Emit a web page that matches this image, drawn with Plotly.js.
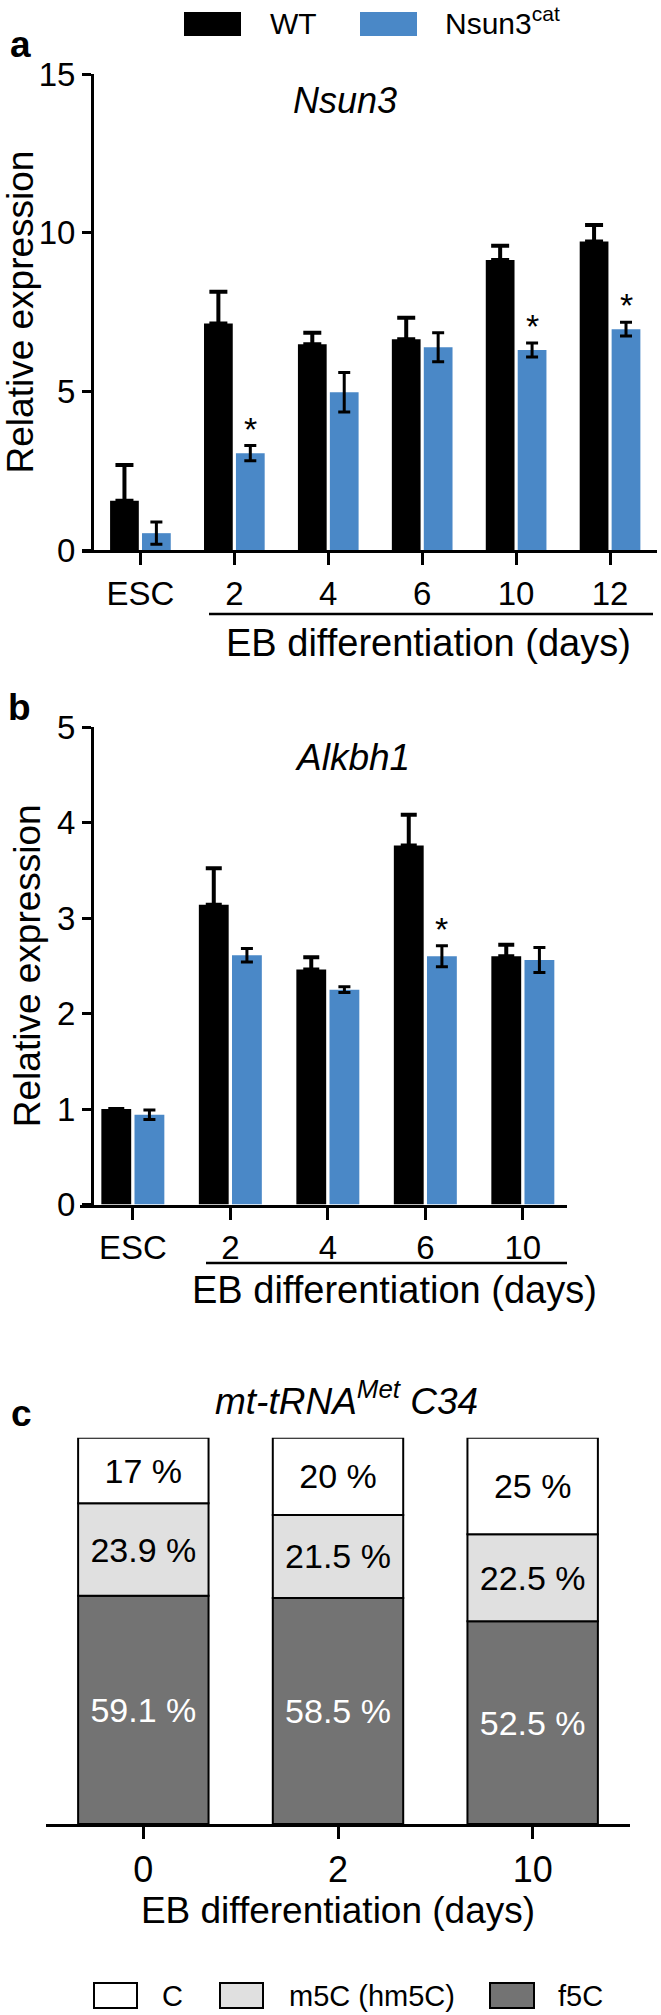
<!DOCTYPE html>
<html>
<head>
<meta charset="utf-8">
<script src="https://cdn.plot.ly/plotly-3.0.1.min.js"></script>
<style>
    body { margin: 0; background: #fff; }
    #fig { width: 661px; height: 2015px; }
</style>
</head>
<body>
<div id="fig"></div>
<script>
// panel a - Nsun3
var catsA = ['ESC', '2', '4', '6', '10', '12'];
var wtA = [1.55, 7.14, 6.48, 6.64, 9.14, 9.72];
var wtErrA = [1.13, 1.0, 0.37, 0.68, 0.45, 0.52];
var nsunA = [0.53, 3.05, 4.97, 6.39, 6.30, 6.96];
var nsunErrA = [0.35, 0.24, 0.62, 0.46, 0.22, 0.22];
var sigA = [false, true, false, false, true, true];

// panel b - Alkbh1
var catsB = ['ESC', '2', '4', '6', '10'];
var wtB = [1.0, 3.14, 2.46, 3.76, 2.60];
var wtErrB = [0, 0.38, 0.13, 0.32, 0.12];
var nsunB = [0.94, 2.61, 2.25, 2.60, 2.56];
var nsunErrB = [0.05, 0.07, 0.03, 0.11, 0.13];
var sigB = [false, false, false, true, false];

// panel c - mt-tRNA Met C34
var daysC = ['0', '2', '10'];
var cPct = [17, 20, 25];
var m5cPct = [23.9, 21.5, 22.5];
var f5cPct = [59.1, 58.5, 52.5];

var W = 661, H = 2015;
function px(x) { return x / W; }
function py(y) { return 1 - y / H; }

var FONT = 'Liberation Sans, Arial, Helvetica, sans-serif';
var BLUE = '#4a88c7';
var BARGAP = 0.32, GROUPGAP = 0.1;
var blueOffset = (1 - BARGAP) / 4;

function zeros(a) { return a.map(function () { return 0; }); }

var traces = [
    {
        type: 'bar', x: catsA, y: wtA, xaxis: 'x', yaxis: 'y',
        marker: { color: '#000' },
        error_y: { type: 'data', array: wtErrA, arrayminus: zeros(wtErrA), symmetric: false, color: '#000', thickness: 4, width: 9 }
    },
    {
        type: 'bar', x: catsA, y: nsunA, xaxis: 'x', yaxis: 'y',
        marker: { color: BLUE },
        error_y: { type: 'data', array: nsunErrA, color: '#000', thickness: 3, width: 6 }
    },
    {
        type: 'bar', x: catsB, y: wtB, xaxis: 'x2', yaxis: 'y2',
        marker: { color: '#000' },
        error_y: { type: 'data', array: wtErrB, arrayminus: zeros(wtErrB), symmetric: false, color: '#000', thickness: 4, width: 8 }
    },
    {
        type: 'bar', x: catsB, y: nsunB, xaxis: 'x2', yaxis: 'y2',
        marker: { color: BLUE },
        error_y: { type: 'data', array: nsunErrB, color: '#000', thickness: 3, width: 6 }
    }
];

// stacked bars for panel c, built with base so the grouped panels keep their layout
var f5cBase = zeros(f5cPct);
var m5cBase = f5cPct.slice();
var cBase = f5cPct.map(function (v, i) { return v + m5cPct[i]; });
function pctText(a) { return a.map(function (v) { return v + ' %'; }); }

var stackDefs = [
    { y: f5cPct, base: f5cBase, color: '#737373', txt: '#fff' },
    { y: m5cPct, base: m5cBase, color: '#e0e0e0', txt: '#000' },
    { y: cPct, base: cBase, color: '#fff', txt: '#000' }
];
stackDefs.forEach(function (d) {
    traces.push({
        type: 'bar', x: daysC, y: d.y, base: d.base, xaxis: 'x3', yaxis: 'y3',
        width: 0.67, offset: -0.335,
        marker: { color: d.color, line: { color: '#000', width: 2 } },
        text: pctText(d.y), textposition: 'inside', insidetextanchor: 'middle',
        textangle: 0, constraintext: 'none',
        textfont: { family: FONT, size: 34, color: d.txt }
    });
});

var axisBase = {
    showline: true, linecolor: '#000', linewidth: 3,
    ticks: 'outside', tickcolor: '#000', tickwidth: 3,
    showgrid: false, zeroline: false, fixedrange: true,
    tickfont: { family: FONT, size: 33, color: '#000' }
};
function ax(extra) { return Object.assign({}, axisBase, extra); }

var annotations = [];
// paper annotations near an edge would auto-anchor to that edge, so anchor explicitly
function txt(x, y, text, size, xa) {
    annotations.push({
        xref: 'paper', yref: 'paper', x: px(x), y: py(y), text: text, showarrow: false,
        xanchor: xa || 'center', yanchor: 'middle',
        font: { family: FONT, size: size, color: '#000' }
    });
}

// panel letters + titles
txt(20, 45, '<b>a</b>', 37);
txt(19, 707, '<b>b</b>', 37);
txt(21, 1413, '<b>c</b>', 37);
txt(345, 100, '<i>Nsun3</i>', 36);
txt(352, 758, '<i>Alkbh1</i>', 37);
txt(346, 1398, '<i>mt-tRNA<sup>Met</sup> C34</i>', 37);
txt(428, 643, 'EB differentiation (days)', 38);
txt(395, 1290, 'EB differentiation (days)', 38);

// legend a
txt(268, 24, 'WT', 30, 'left');
txt(443, 21, 'Nsun3<sup>cat</sup>', 30, 'left');
// legend c
txt(160, 1996, 'C', 29, 'left');
txt(287, 1996, 'm5C (hm5C)', 29, 'left');
txt(556, 1996, 'f5C', 29, 'left');

// significance stars over the Nsun3cat bars
function stars(sig, vals, errs, xr, yr) {
    sig.forEach(function (s, i) {
        if (!s) return;
        annotations.push({
            xref: xr, yref: yr, x: i + blueOffset, y: vals[i] + errs[i],
            text: '*', showarrow: false, xanchor: 'center', yanchor: 'bottom', yshift: -4,
            font: { family: FONT, size: 34, color: '#000' }
        });
    });
}
stars(sigA, nsunA, nsunErrA, 'x', 'y');
stars(sigB, nsunB, nsunErrB, 'x2', 'y2');

function rect(x0, y0, x1, y1, fill, lw) {
    return {
        type: 'rect', xref: 'paper', yref: 'paper',
        x0: px(x0), x1: px(x1), y0: py(y1), y1: py(y0),
        fillcolor: fill, line: { color: '#000', width: lw }
    };
}

var shapes = [
    rect(184, 12, 241, 36, '#000', 0),
    rect(360, 12, 417, 36, BLUE, 0),
    rect(94, 1983, 137, 2008, '#fff', 2),
    rect(220, 1983, 263, 2008, '#e0e0e0', 2),
    rect(490, 1983, 534, 2008, '#737373', 2),
    // brackets under EB days
    { type: 'line', xref: 'paper', yref: 'paper', x0: px(209), x1: px(653), y0: py(614), y1: py(614), line: { color: '#000', width: 2.5 } },
    { type: 'line', xref: 'paper', yref: 'paper', x0: px(206), x1: px(567), y0: py(1263), y1: py(1263), line: { color: '#000', width: 2.5 } }
];

var layout = {
    width: W, height: H,
    margin: { l: 0, r: 0, t: 0, b: 0 },
    paper_bgcolor: '#fff', plot_bgcolor: 'rgba(0,0,0,0)',
    showlegend: false,
    barmode: 'group', bargap: BARGAP, bargroupgap: GROUPGAP,
    font: { family: FONT, color: '#000' },
    xaxis: ax({ domain: [px(82), px(657)], anchor: 'y', type: 'category', range: [-0.622, 5.5], ticklen: 12 }),
    yaxis: ax({
        domain: [py(550), py(74)], anchor: 'free', position: px(92), range: [0, 15],
        tickvals: [0, 5, 10, 15], ticklen: 9,
        title: { text: 'Relative expression', font: { family: FONT, size: 37 }, standoff: 4 }
    }),
    xaxis2: ax({ domain: [px(80), px(567)], anchor: 'y2', type: 'category', range: [-0.542, 4.453], ticklen: 12 }),
    yaxis2: ax({
        domain: [py(1204.5), py(727)], anchor: 'free', position: px(92), range: [0, 5],
        dtick: 1, ticklen: 9,
        title: { text: 'Relative expression', font: { family: FONT, size: 37 }, standoff: 4 }
    }),
    xaxis3: ax({
        domain: [px(46), px(630)], anchor: 'y3', type: 'category', range: [-0.5, 2.5], ticklen: 12,
        tickfont: { family: FONT, size: 36, color: '#000' },
        title: { text: 'EB differentiation (days)', font: { family: FONT, size: 37 }, standoff: 8 }
    }),
    yaxis3: { domain: [py(1824), py(1437.7)], anchor: 'x3', range: [0, 100], visible: false, fixedrange: true },
    annotations: annotations,
    shapes: shapes
};

Plotly.newPlot('fig', traces, layout, { displayModeBar: false, staticPlot: true });
</script>
</body>
</html>
